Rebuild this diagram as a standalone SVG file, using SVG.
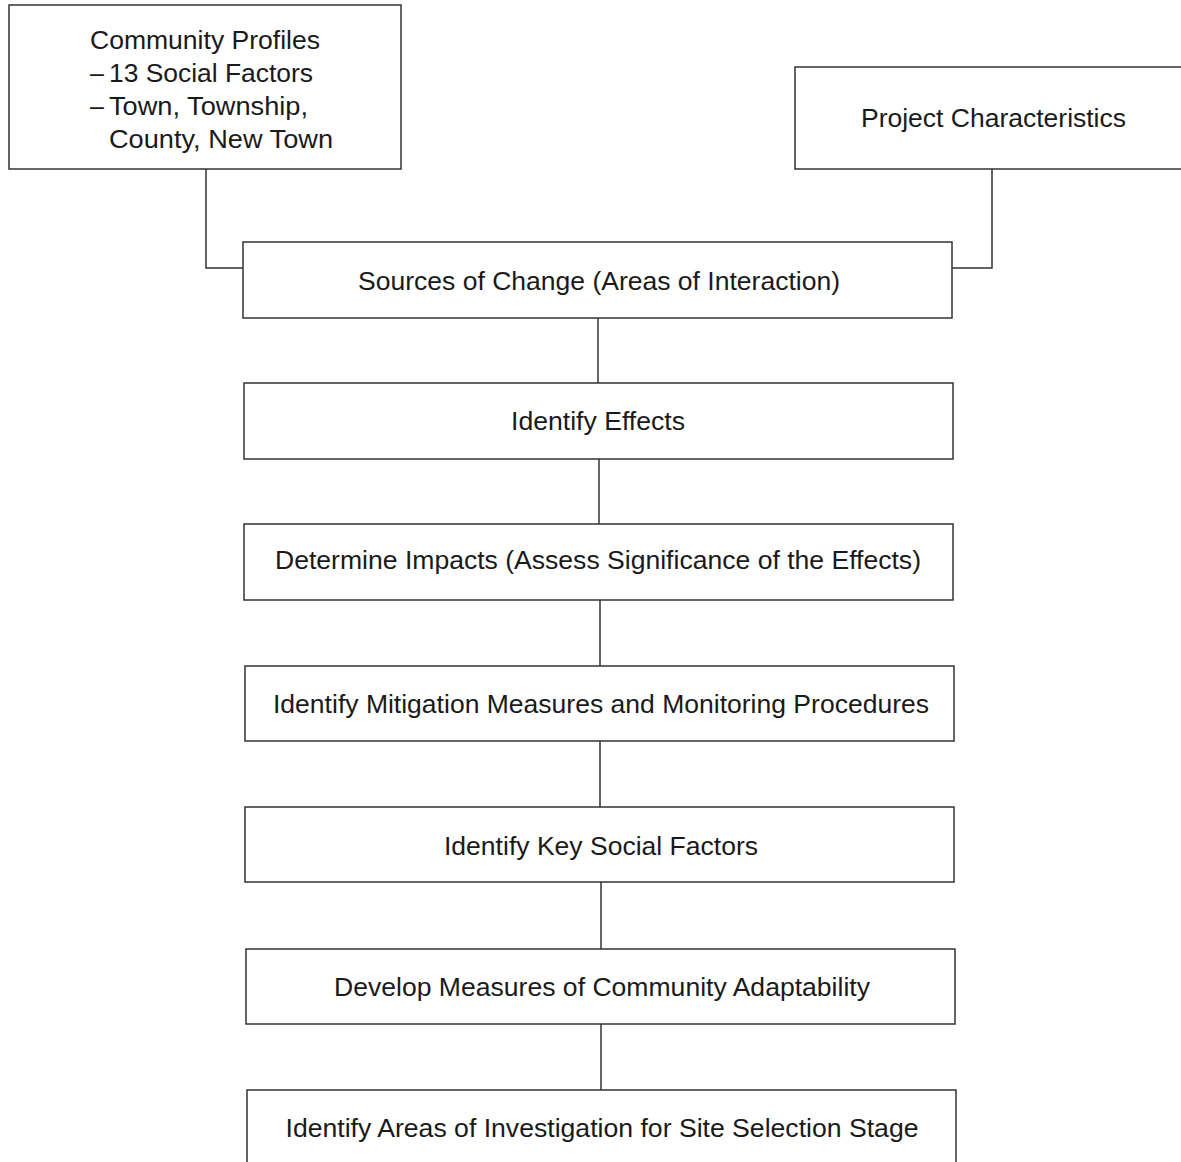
<svg xmlns="http://www.w3.org/2000/svg" width="1181" height="1162" viewBox="0 0 1181 1162">
<style>
.box{fill:#fff;stroke:#333;stroke-width:1.5}
.t{font-family:"Liberation Sans",Arial,sans-serif;font-size:25px;fill:#1a1a1a}
.c{text-anchor:middle}
.ln{fill:none;stroke:#333;stroke-width:1.5}
</style>
<rect width="1181" height="1162" fill="#fff"/>
<g id="connectors">
<polyline class="ln" points="206,169 206,268 243,268"/>
<polyline class="ln" points="992,169 992,268 952,268"/>
<line class="ln" x1="598" y1="318" x2="598" y2="383"/>
<line class="ln" x1="599" y1="459" x2="599" y2="524"/>
<line class="ln" x1="600" y1="600" x2="600" y2="666"/>
<line class="ln" x1="600" y1="741" x2="600" y2="807"/>
<line class="ln" x1="601" y1="882" x2="601" y2="949"/>
<line class="ln" x1="601" y1="1024" x2="601" y2="1090"/>
</g>
<g id="community-profiles">
<rect class="box" x="9" y="5" width="392" height="164"/>
<text class="t" x="90" y="49" textLength="230" lengthAdjust="spacingAndGlyphs">Community Profiles</text>
<text class="t" x="90" y="82">–</text>
<text class="t" x="109" y="82" textLength="204" lengthAdjust="spacingAndGlyphs">13 Social Factors</text>
<text class="t" x="90" y="115">–</text>
<text class="t" x="109" y="115" textLength="199" lengthAdjust="spacingAndGlyphs">Town, Township,</text>
<text class="t" x="109" y="148" textLength="224" lengthAdjust="spacingAndGlyphs">County, New Town</text>
</g>
<g id="project-characteristics">
<rect class="box" x="795" y="67" width="392" height="102"/>
<text class="t" x="861" y="127" textLength="265" lengthAdjust="spacingAndGlyphs">Project Characteristics</text>
</g>
<g id="sources-of-change">
<rect class="box" x="243" y="242" width="709" height="76"/>
<text class="t c" x="599" y="290" textLength="482" lengthAdjust="spacingAndGlyphs">Sources of Change (Areas of Interaction)</text>
</g>
<g id="identify-effects">
<rect class="box" x="244" y="383" width="709" height="76"/>
<text class="t c" x="598" y="430" textLength="174" lengthAdjust="spacingAndGlyphs">Identify Effects</text>
</g>
<g id="determine-impacts">
<rect class="box" x="244" y="524" width="709" height="76"/>
<text class="t c" x="598" y="569" textLength="646" lengthAdjust="spacingAndGlyphs">Determine Impacts (Assess Significance of the Effects)</text>
</g>
<g id="mitigation">
<rect class="box" x="245" y="666" width="709" height="75"/>
<text class="t c" x="601" y="713" textLength="656" lengthAdjust="spacingAndGlyphs">Identify Mitigation Measures and Monitoring Procedures</text>
</g>
<g id="key-social-factors">
<rect class="box" x="245" y="807" width="709" height="75"/>
<text class="t c" x="601" y="855" textLength="314" lengthAdjust="spacingAndGlyphs">Identify Key Social Factors</text>
</g>
<g id="community-adaptability">
<rect class="box" x="246" y="949" width="709" height="75"/>
<text class="t c" x="602" y="996" textLength="536" lengthAdjust="spacingAndGlyphs">Develop Measures of Community Adaptability</text>
</g>
<g id="areas-of-investigation">
<rect class="box" x="247" y="1090" width="709" height="90"/>
<text class="t c" x="602" y="1137" textLength="633" lengthAdjust="spacingAndGlyphs">Identify Areas of Investigation for Site Selection Stage</text>
</g>
</svg>
